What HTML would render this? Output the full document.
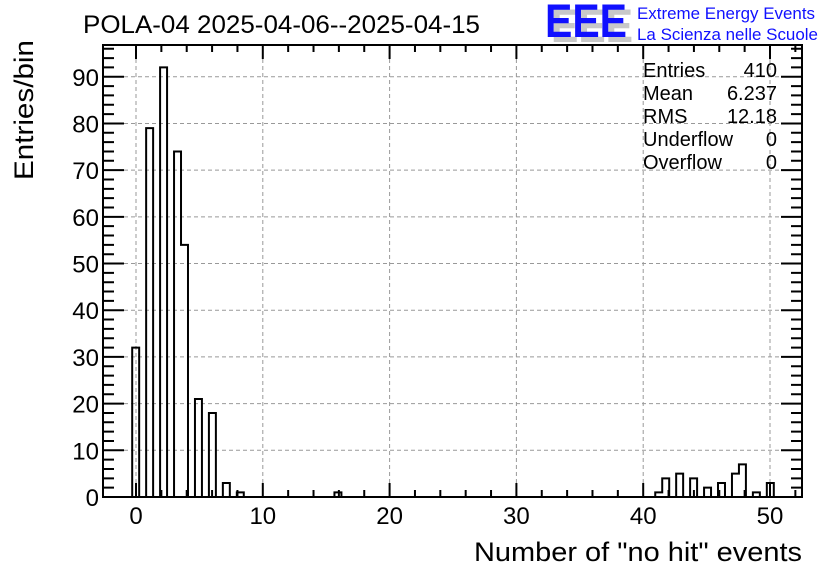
<!DOCTYPE html>
<html><head><meta charset="utf-8"><style>
html,body{margin:0;padding:0;background:#fff;}
svg{display:block;font-family:"Liberation Sans",Arial,sans-serif;}
</style></head><body>
<svg id="chart" width="836" height="572" viewBox="0 0 836 572">
<rect width="836" height="572" fill="#fff"/>
<text x="83" y="33" font-size="25" textLength="397" lengthAdjust="spacingAndGlyphs">POLA-04 2025-04-06--2025-04-15</text>
<g>
<text x="551" y="42" font-size="47" font-weight="bold" fill="#c8c8c8" textLength="82" lengthAdjust="spacingAndGlyphs">EEE</text>
<text x="545" y="37" font-size="47" font-weight="bold" fill="#1010ff" textLength="82" lengthAdjust="spacingAndGlyphs">EEE</text>
<text x="637" y="19" font-size="17" fill="#1010ff" textLength="178" lengthAdjust="spacingAndGlyphs">Extreme Energy Events</text>
<text x="637" y="40" font-size="17" fill="#1010ff" textLength="181" lengthAdjust="spacingAndGlyphs">La Scienza nelle Scuole</text>
</g>
<g id="grid"></g>
<g id="bars"></g>
<g id="axes"></g>
<rect x="103" y="45" width="699" height="452" fill="none" stroke="#000" stroke-width="2"/>
<g font-size="20">
<text x="643" y="77">Entries</text><text x="777" y="77" text-anchor="end">410</text>
<text x="643" y="100">Mean</text><text x="777" y="100" text-anchor="end">6.237</text>
<text x="643" y="123">RMS</text><text x="777" y="123" text-anchor="end">12.18</text>
<text x="643" y="146">Underflow</text><text x="777" y="146" text-anchor="end">0</text>
<text x="643" y="169">Overflow</text><text x="777" y="169" text-anchor="end">0</text>
</g>
<text transform="translate(33,110) rotate(-90)" font-size="27" text-anchor="middle" textLength="140" lengthAdjust="spacingAndGlyphs">Entries/bin</text>
<text x="802" y="561" font-size="27" text-anchor="end" textLength="328" lengthAdjust="spacingAndGlyphs">Number of "no hit" events</text>
</svg>
<script>
const values = [0,1,2,3,4,5,6,7,8,16,41,42,43,44,45,46,47,48,49,50];
const counts = [32,79,92,74,54,21,18,3,1,1,1,4,5,4,2,3,5,7,1,3];
const xTicks = [0,10,20,30,40,50];
const yTicks = [0,10,20,30,40,50,60,70,80,90];
const X0=-2.5, X1=52.5, NB=100, BW=(X1-X0)/NB, Y0=0, Y1=96.8;
const L=103,R=802,T=45,B=497;
const sx=v=>136+(v-0)*(770-136)/50;
const sy=v=>B-(v-Y0)*(B-T)/(Y1-Y0);
const NS='http://www.w3.org/2000/svg';
function mk(tag,attrs,parent){const e=document.createElementNS(NS,tag);for(const k in attrs)e.setAttribute(k,attrs[k]);parent.appendChild(e);return e;}
const grid=document.getElementById('grid'),bars=document.getElementById('bars'),axes=document.getElementById('axes');
xTicks.forEach(t=>{
  const g=mk('line',{x1:sx(t),x2:sx(t),y1:T,y2:B,stroke:'#999','stroke-dasharray':'4,3','stroke-width':1},grid);
  
  
  const tk=mk('text',{x:sx(t),y:524,'font-size':24,'text-anchor':'middle'},axes);
  tk.textContent=t;
  
  
});
yTicks.forEach(t=>{
  if(t>0){const g=mk('line',{x1:L,x2:R,y1:sy(t),y2:sy(t),stroke:'#999','stroke-dasharray':'4,3','stroke-width':1},grid);
  
  }
  const tk=mk('text',{x:99,y:sy(t)+9,'font-size':24,'text-anchor':'end'},axes);
  tk.textContent=t;
  
  
});
let d='';
for(let v=0;v<=52;v+=2){const x=sx(v);const len=(v%10===0)?14:7;d+=`M${x},${B}v${-len}M${x},${T}v${len}`;}
for(let v=0;v<=96;v+=2){const y=sy(v);const len=(v%10===0)?21:11;d+=`M${L},${y}h${len}M${R},${y}h${-len}`;}
const tp=mk('path',{d:d,stroke:'#000','stroke-width':2,fill:'none'},axes);


const binCounts=new Array(NB).fill(0);
values.forEach((v,i)=>{const k=Math.floor((v-X0)/BW+1e-9);if(k>=0&&k<NB)binCounts[k]+=counts[i];});
let p=`M${L},${B}`;
for(let k=0;k<NB;k++){const xa=sx(X0+k*BW),xb=sx(X0+(k+1)*BW),y=sy(binCounts[k]);p+=`L${xa},${y}L${xb},${y}`;}
p+=`L${R},${B}`;
const hp=mk('path',{d:p,stroke:'#000','stroke-width':2,fill:'none'},bars);


</script>
</body></html>
